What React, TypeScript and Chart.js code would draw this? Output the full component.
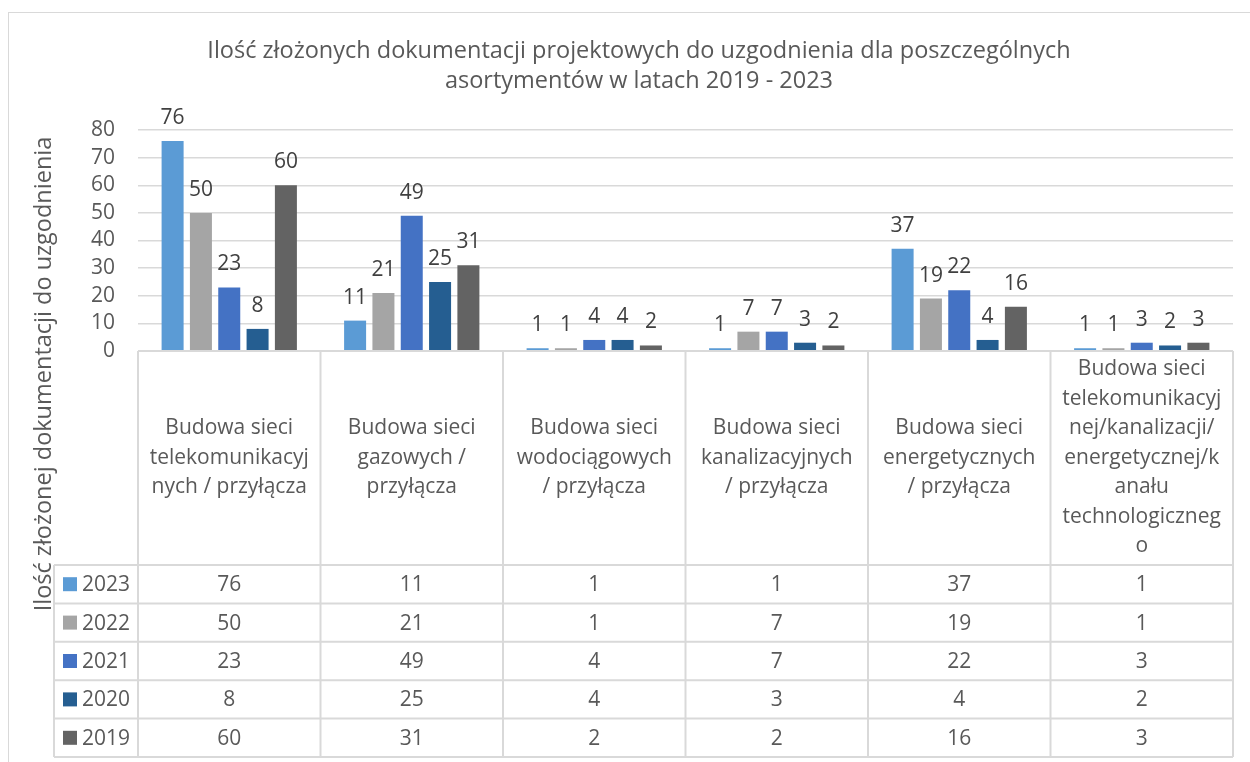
import { useEffect, useRef } from "react";
import { Chart, registerables } from "chart.js";

Chart.register(...registerables);

const titleLines = [
  "Ilość złożonych dokumentacji projektowych do uzgodnienia dla poszczególnych",
  "asortymentów w latach 2019 - 2023",
];
const yAxisTitle = "Ilość złożonej dokumentacji do uzgodnienia";

const categories: string[][] = [
  ["Budowa sieci", "telekomunikacyj", "nych / przyłącza"],
  ["Budowa sieci", "gazowych /", "przyłącza"],
  ["Budowa sieci", "wodociągowych", "/ przyłącza"],
  ["Budowa sieci", "kanalizacyjnych", "/ przyłącza"],
  ["Budowa sieci", "energetycznych", "/ przyłącza"],
  [
    "Budowa sieci",
    "telekomunikacyj",
    "nej/kanalizacji/",
    "energetycznej/k",
    "anału",
    "technologiczneg",
    "o",
  ],
];

const seriesNames = ["2023", "2022", "2021", "2020", "2019"];
const values2023 = [76, 11, 1, 1, 37, 1];
const values2022 = [50, 21, 1, 7, 19, 1];
const values2021 = [23, 49, 4, 7, 22, 3];
const values2020 = [8, 25, 4, 3, 4, 2];
const values2019 = [60, 31, 2, 2, 16, 3];
const seriesColors = ["#5B9BD5", "#A5A5A5", "#4472C4", "#255E91", "#636363"];

const yTicks = [0, 10, 20, 30, 40, 50, 60, 70, 80];

const FONT = "'Open Sans', sans-serif";
const TEXT = "#595959";
const LINE = "#d9d9d9";

const tablePlugin = {
  id: "tablePlugin",
  afterDraw(chart: any) {
    const ctx = chart.ctx as CanvasRenderingContext2D;
    const xs = chart.scales.x;
    const ys = chart.scales.y;
    ctx.save();

    // outer border
    ctx.strokeStyle = LINE;
    ctx.lineWidth = 1;
    ctx.strokeRect(8.5, 12.5, 1400, 900);

    // title
    ctx.fillStyle = TEXT;
    ctx.font = `23.5px ${FONT}`;
    ctx.textAlign = "center";
    ctx.textBaseline = "middle";
    titleLines.forEach((t, i) => ctx.fillText(t, 639, 51 + i * 30));

    // y-axis title
    ctx.save();
    ctx.translate(44, 374);
    ctx.rotate(-Math.PI / 2);
    ctx.fillText(yAxisTitle, 0, 0);
    ctx.restore();

    // data labels
    ctx.font = `21px ${FONT}`;
    ctx.fillStyle = "#404040";
    ctx.textBaseline = "alphabetic";
    chart.data.datasets.forEach((ds: any, di: number) => {
      const meta = chart.getDatasetMeta(di);
      meta.data.forEach((bar: any, i: number) => {
        ctx.fillText(String(ds.data[i]), bar.x, bar.y - 17);
      });
    });

    // data table
    const n = categories.length;
    const cw = (xs.right - xs.left) / n;
    const top = ys.getPixelForValue(0);
    const headerBottom = 565;
    const rowH = 38.4;
    const bottom = headerBottom + rowH * seriesNames.length;
    const legendLeft = 54;

    ctx.strokeStyle = LINE;
    ctx.lineWidth = 2;
    ctx.beginPath();
    ctx.moveTo(xs.left, top);
    ctx.lineTo(xs.right, top);
    for (let i = 0; i <= n; i++) {
      const x = xs.left + i * cw;
      ctx.moveTo(x, top);
      ctx.lineTo(x, bottom);
    }
    ctx.moveTo(legendLeft, headerBottom);
    ctx.lineTo(legendLeft, bottom);
    for (let r = 0; r <= seriesNames.length; r++) {
      const y = headerBottom + r * rowH;
      ctx.moveTo(legendLeft, y);
      ctx.lineTo(xs.right, y);
    }
    ctx.stroke();

    // header text
    ctx.fillStyle = TEXT;
    ctx.font = `21px ${FONT}`;
    ctx.textAlign = "center";
    ctx.textBaseline = "middle";
    const lh = 29.5;
    const hc = (top + headerBottom) / 2;
    categories.forEach((lines, i) => {
      const cx = xs.getPixelForValue(i);
      const y0 = hc - ((lines.length - 1) * lh) / 2;
      lines.forEach((l, k) => ctx.fillText(l, cx, y0 + k * lh));
    });

    // rows
    chart.data.datasets.forEach((ds: any, r: number) => {
      const cy = headerBottom + r * rowH + rowH / 2;
      ctx.fillStyle = seriesColors[r];
      ctx.fillRect(63, cy - 7, 14, 14);
      ctx.fillStyle = TEXT;
      ctx.textAlign = "left";
      ctx.fillText(seriesNames[r], 82, cy + 1);
      ctx.textAlign = "center";
      ds.data.forEach((v: number, i: number) => {
        ctx.fillText(String(v), xs.getPixelForValue(i), cy + 1);
      });
    });

    ctx.restore();
  },
};

export default function App() {
  const ref = useRef<HTMLCanvasElement>(null);
  useEffect(() => {
    if (!ref.current) return;
    const allValues = [values2023, values2022, values2021, values2020, values2019];
    const chart = new Chart(ref.current, {
      type: "bar",
      data: {
        labels: categories,
        datasets: seriesNames.map((name, i) => ({
          label: name,
          data: allValues[i],
          backgroundColor: seriesColors[i],
          borderWidth: 0,
          barPercentage: 0.777,
          categoryPercentage: 0.776,
        })),
      },
      options: {
        responsive: false,
        animation: false,
        devicePixelRatio: 1,
        layout: { padding: { top: 130, right: 17, bottom: 411, left: 0 } },
        plugins: {
          legend: { display: false },
          title: { display: false },
          tooltip: { enabled: false },
        },
        scales: {
          x: { display: false },
          y: {
            min: 0,
            max: 80,
            afterFit: (s: any) => {
              s.width = 138;
            },
            afterBuildTicks: (s: any) => {
              s.ticks = yTicks.map((v) => ({ value: v }));
            },
            border: { display: false },
            grid: { color: LINE, lineWidth: 1.5, drawTicks: false },
            ticks: {
              autoSkip: false,
              padding: 23,
              color: TEXT,
              font: { family: FONT, size: 21 },
            },
          },
        },
      },
      plugins: [tablePlugin],
    });
    return () => chart.destroy();
  }, []);
  return (
    <div style={{ position: "absolute", left: 0, top: 0, width: 1250, height: 762 }}>
      <canvas ref={ref} width={1250} height={762} style={{ display: "block" }} />
    </div>
  );
}
